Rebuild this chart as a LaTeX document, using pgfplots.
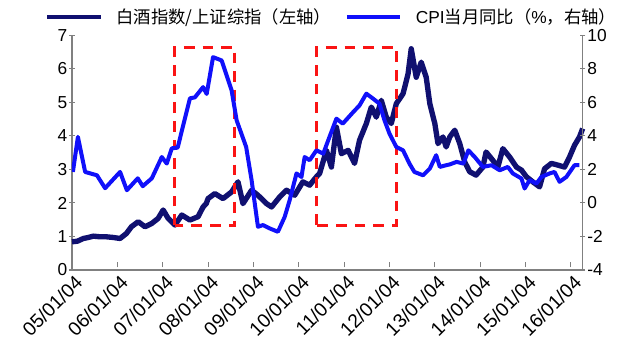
\documentclass[border=0pt]{standalone}
\usepackage{pgfplots}
\pgfplotsset{compat=1.18}
\usepackage{fontspec}
\setmainfont{Liberation Sans}
\newfontfamily\cjk{Noto Sans CJK SC}
\definecolor{navy}{RGB}{16,16,112}
\definecolor{cpiblue}{RGB}{16,16,250}
\definecolor{axgray}{RGB}{128,128,128}
\definecolor{boxred}{RGB}{250,20,20}

\pgfplotstableread{
t v
2005.00 0.84
2005.12 0.86
2005.25 0.94
2005.36 0.97
2005.47 1.01
2005.62 0.99
2005.76 0.99
2005.91 0.97
2006.06 0.94
2006.20 1.09
2006.31 1.29
2006.46 1.44
2006.61 1.29
2006.76 1.39
2006.90 1.54
2007.01 1.79
2007.12 1.54
2007.27 1.34
2007.42 1.64
2007.60 1.49
2007.78 1.59
2007.89 1.88
2007.96 1.98
2008.00 2.13
2008.15 2.28
2008.33 2.13
2008.52 2.33
2008.66 2.63
2008.77 1.98
2008.96 2.38
2009.10 2.23
2009.29 1.98
2009.40 1.88
2009.58 2.18
2009.73 2.38
2009.91 2.23
2010.09 2.63
2010.24 2.53
2010.39 2.78
2010.46 2.88
2010.61 3.57
2010.72 3.07
2010.83 4.26
2010.94 3.47
2011.09 3.57
2011.23 3.18
2011.34 3.87
2011.49 4.37
2011.60 4.86
2011.71 4.56
2011.82 5.06
2011.93 4.56
2012.04 4.37
2012.15 4.96
2012.30 5.26
2012.41 5.85
2012.48 6.60
2012.59 5.75
2012.70 6.20
2012.81 5.75
2012.89 4.96
2013.00 4.37
2013.07 3.77
2013.18 3.97
2013.25 3.67
2013.33 3.97
2013.44 4.17
2013.55 3.77
2013.66 3.22
2013.77 2.93
2013.91 2.83
2014.06 3.07
2014.13 3.52
2014.28 3.27
2014.39 3.07
2014.50 3.62
2014.65 3.37
2014.80 3.07
2014.91 2.98
2015.02 2.78
2015.16 2.63
2015.31 2.48
2015.42 3.02
2015.57 3.18
2015.71 3.13
2015.86 3.07
2015.97 3.37
2016.08 3.72
2016.19 3.97
2016.26 4.22
}\baijiu

\pgfplotstableread{
t v
2005.02 1.85
2005.13 3.94
2005.29 1.85
2005.55 1.65
2005.73 0.88
2006.06 1.85
2006.21 0.76
2006.45 1.47
2006.56 1.00
2006.76 1.47
2006.98 2.74
2007.09 2.35
2007.20 3.26
2007.33 3.30
2007.60 6.24
2007.71 6.30
2007.89 6.91
2007.97 6.50
2008.11 8.70
2008.30 8.50
2008.52 6.71
2008.63 4.93
2008.84 3.34
2008.96 1.36
2009.10 -1.42
2009.21 -1.32
2009.36 -1.52
2009.54 -1.72
2009.69 -0.83
2009.80 0.17
2009.95 1.76
2010.06 1.55
2010.13 2.74
2010.24 2.55
2010.39 3.14
2010.54 2.94
2010.65 3.74
2010.83 5.03
2010.97 4.73
2011.20 5.42
2011.34 5.82
2011.49 6.52
2011.64 6.22
2011.78 5.92
2011.89 4.93
2012.00 4.14
2012.15 3.34
2012.30 3.14
2012.44 2.35
2012.55 1.85
2012.74 1.65
2012.89 2.05
2013.03 2.85
2013.11 2.15
2013.25 2.25
2013.33 2.30
2013.48 2.45
2013.63 2.35
2013.74 3.14
2013.88 2.74
2014.06 2.15
2014.25 2.25
2014.43 1.95
2014.61 2.15
2014.72 1.76
2014.91 1.46
2014.98 0.86
2015.09 1.36
2015.24 1.16
2015.35 1.55
2015.53 1.76
2015.64 1.85
2015.75 1.26
2015.90 1.55
2016.08 2.25
2016.19 2.25
}\cpi

\pgfplotsset{
  common/.style={
    scale only axis, width=383pt, height=176pt,
    xmin=2005.0, xmax=2016.26,
    axis line style={axgray, line width=0.8pt},
    tick style={axgray, line width=0.8pt},
    major tick length=4pt,
    /pgf/number format/assume math mode=true,
    ticklabel style={font=\fontsize{13}{15}\selectfont},
  }
}

\begin{document}
\begin{tikzpicture}
\useasboundingbox (-54pt,-62.25pt) rectangle (426pt,202.5pt);
\begin{axis}[common,
  axis x line*=bottom, axis y line*=left,
  ymin=0, ymax=7, ytick={0,1,...,7},
  y tick style={xshift=-2pt},
  xtick={2005,2006,...,2016},
  xticklabels={05/01/04,06/01/04,07/01/04,08/01/04,09/01/04,10/01/04,11/01/04,12/01/04,13/01/04,14/01/04,15/01/04,16/01/04},
  x tick label style={rotate=45, anchor=north east, inner sep=1pt, yshift=-2pt,
    font=\fontsize{14.5}{16}\selectfont},
  x tick style={yshift=2pt},
  clip=false,
]
\addplot[navy, line width=4pt, line join=round] table[x=t,y=v]{\baijiu};
\draw[boxred, line width=2.2pt, dash pattern=on 8pt off 6pt] (axis cs:2007.27,1.34) rectangle (axis cs:2008.59,6.64);
\draw[boxred, line width=2.2pt, dash pattern=on 8pt off 6pt] (axis cs:2010.40,1.34) rectangle (axis cs:2012.16,6.64);
\end{axis}
\begin{axis}[common,
  axis x line=none, axis y line*=right,
  ymin=-4, ymax=10, ytick={-4,-2,...,10},
  y tick style={xshift=2pt},
  legend columns=2,
  legend style={at={(0.509,1.03)}, anchor=south, draw=none, fill=none,
    font=\fontsize{13}{15}\selectfont, column sep=8pt, inner sep=0pt},
  legend image post style={line width=3.5pt},
  legend image code/.code={\draw[#1] (0pt,0pt) -- (40pt,0pt);},
]
\addlegendimage{navy}
\addlegendentry{{\cjk 白酒指数/上证综指（左轴）}}
\addplot[cpiblue, line width=3pt, line join=round] table[x=t,y=v]{\cpi};
\addlegendentry{CPI{\cjk 当月同比（}\%{\cjk ，右轴）}}
\end{axis}
\end{tikzpicture}
\end{document}
